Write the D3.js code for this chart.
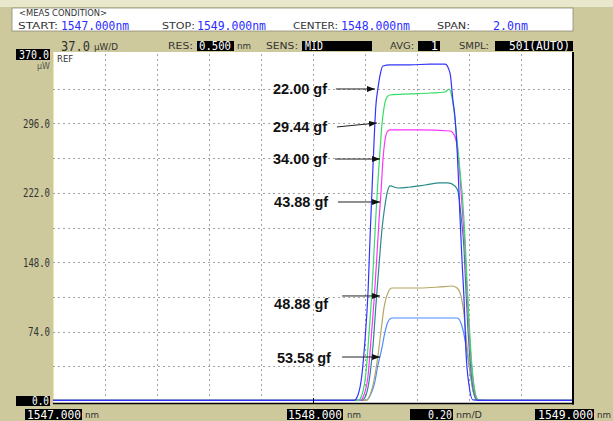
<!DOCTYPE html>
<html lang="en">
<head>
<meta charset="utf-8">
<title>OSA spectrum vs load</title>
<script src="https://cdn.jsdelivr.net/npm/d3@7"></script>
<style>
  body { margin: 0; background: #cdc99c; }
  svg { display: block; }
</style>
</head>
<body>
<script>
// spectra: [wavelength nm, power uW]
const spec2200 = [[1547.000,0.6],[1548.158,0.6],[1548.173,6.4],[1548.188,27.7],[1548.200,65.0],[1548.212,118.4],[1548.219,171.7],[1548.227,225.0],[1548.235,278.3],[1548.242,315.6],[1548.250,333.8],[1548.258,347.6],[1548.269,357.2],[1548.296,358.3],[1548.373,358.3],[1548.450,359.3],[1548.508,359.3],[1548.527,349.7],[1548.538,321.0],[1548.546,302.8],[1548.558,246.3],[1548.565,198.3],[1548.573,150.3],[1548.581,107.7],[1548.588,54.4],[1548.600,17.1],[1548.615,1.1],[1548.640,0.6],[1549.000,0.6]]
const spec2944 = [[1547.000,0.6],[1548.173,0.6],[1548.188,6.4],[1548.204,30.9],[1548.215,70.4],[1548.227,118.4],[1548.235,161.0],[1548.242,198.3],[1548.250,235.7],[1548.258,267.6],[1548.265,294.3],[1548.273,312.4],[1548.285,324.2],[1548.296,326.3],[1548.373,327.4],[1548.450,328.4],[1548.508,329.5],[1548.523,332.7],[1548.531,328.4],[1548.542,310.3],[1548.554,278.3],[1548.565,246.3],[1548.577,209.0],[1548.585,171.7],[1548.592,129.0],[1548.600,86.4],[1548.608,49.0],[1548.619,17.1],[1548.635,1.1],[1548.660,0.6],[1549.000,0.6]]
const spec3400 = [[1547.000,0.6],[1548.181,0.6],[1548.196,6.4],[1548.212,27.7],[1548.223,65.0],[1548.235,107.7],[1548.246,155.7],[1548.254,193.0],[1548.262,225.0],[1548.269,257.0],[1548.277,278.3],[1548.285,286.8],[1548.296,289.0],[1548.412,289.0],[1548.527,287.9],[1548.538,285.8],[1548.550,278.3],[1548.562,251.6],[1548.569,225.0],[1548.577,193.0],[1548.585,161.0],[1548.592,118.4],[1548.600,75.7],[1548.608,43.7],[1548.619,13.9],[1548.635,1.1],[1548.660,0.6],[1549.000,0.6]]
const spec4388 = [[1547.000,0.6],[1548.188,0.6],[1548.204,6.4],[1548.219,27.7],[1548.231,59.7],[1548.242,102.4],[1548.254,145.0],[1548.265,182.3],[1548.277,209.0],[1548.285,221.8],[1548.296,229.3],[1548.327,227.1],[1548.373,228.2],[1548.431,230.3],[1548.488,232.5],[1548.519,232.5],[1548.546,229.3],[1548.558,222.9],[1548.569,198.3],[1548.581,161.0],[1548.588,118.4],[1548.596,75.7],[1548.604,43.7],[1548.615,13.9],[1548.631,1.1],[1548.655,0.6],[1549.000,0.6]]
const spec4888 = [[1547.000,0.6],[1548.204,0.6],[1548.219,6.4],[1548.235,22.4],[1548.250,49.0],[1548.262,75.7],[1548.273,99.2],[1548.288,115.2],[1548.304,120.5],[1548.412,120.5],[1548.488,121.6],[1548.535,122.6],[1548.554,120.5],[1548.569,112.0],[1548.581,91.7],[1548.592,59.7],[1548.604,33.1],[1548.615,11.7],[1548.631,1.1],[1548.650,0.6],[1549.000,0.6]]
const spec5358 = [[1547.000,0.6],[1548.204,0.6],[1548.219,5.3],[1548.235,17.1],[1548.250,38.4],[1548.265,56.5],[1548.277,73.6],[1548.288,84.2],[1548.304,88.5],[1548.412,88.5],[1548.554,88.5],[1548.569,83.2],[1548.581,70.4],[1548.592,52.2],[1548.604,30.9],[1548.615,11.7],[1548.631,1.1],[1548.650,0.6],[1549.000,0.6]]

// load labels and the arrows pointing at each trace
const loads = ["22.00 gf", "29.44 gf", "34.00 gf", "43.88 gf", "48.88 gf", "53.58 gf"]
const arrowFrom = [[1548.088,332.7],[1548.092,292.2],[1548.085,258.0],[1548.096,212.2],[1548.112,112.0],[1548.112,46.9]]
const arrowTo = [[1548.238,332.7],[1548.246,296.4],[1548.258,258.0],[1548.258,212.2],[1548.258,112.0],[1548.258,46.9]]
const labelWl = [1548.054, 1548.054, 1548.054, 1548.058, 1548.058, 1548.069]
const labelPw = [332.7, 292.2, 258.0, 212.2, 103.4, 45.9]

const yTicks = [74, 148, 222, 296]
const wlRange = [1547, 1549]
const pwRange = [0, 370]

const W = 613, H = 421

const svg = d3.select("body").append("svg")
    .attr("width", W)
    .attr("height", H)

const x = d3.scaleLinear().domain(wlRange).range([53, 573])
const y = d3.scaleLinear().domain(pwRange).range([401, 54])

function put(g, str, px, py, o = {}) {
    const t = g.append("text")
        .attr("x", px).attr("y", py)
        .attr("font-family", o.family || "DejaVu Sans Mono")
        .attr("font-size", o.size || 11)
        .attr("fill", o.fill || "#2a2a2a")
        .attr("text-anchor", o.anchor || "start")
        .attr("dominant-baseline", "central")
        .text(str)
    if (o.len) t.attr("textLength", o.len).attr("lengthAdjust", "spacingAndGlyphs")
    if (o.weight) t.attr("font-weight", o.weight)
    return t
}

function box(g, x0, x1, y0, y1) {
    g.append("rect").attr("x", x0).attr("y", y0)
        .attr("width", x1 - x0).attr("height", y1 - y0)
        .attr("fill", "#000")
}

// background
svg.append("rect").attr("width", W).attr("height", H).attr("fill", "#cdc99c")
svg.append("rect").attr("width", W).attr("height", 7).attr("fill", "#e9e7cc")

// measurement condition panel
const panel = svg.append("g")
panel.append("rect").attr("x", 12).attr("y", 8).attr("width", 561).attr("height", 23)
    .attr("fill", "#fff").attr("stroke", "#8c8a78").attr("stroke-width", 0.8)
const small = { family: "DejaVu Sans", size: 8.5, fill: "#333" }
const blue = { size: 13, fill: "#2d2dff" }
put(panel, "<MEAS CONDITION>", 19, 13, { ...small, size: 8, len: 88 })
put(panel, "START:", 18, 26, { ...small, len: 40 })
put(panel, d3.format(".3f")(wlRange[0]) + "nm", 61, 25.5, { ...blue, len: 68 })
put(panel, "STOP:", 162, 26, { ...small, len: 33 })
put(panel, d3.format(".3f")(wlRange[1]) + "nm", 197, 25.5, { ...blue, len: 69 })
put(panel, "CENTER:", 293, 26, { ...small, len: 45 })
put(panel, d3.format(".3f")(d3.mean(wlRange)) + "nm", 341, 25.5, { ...blue, len: 69 })
put(panel, "SPAN:", 437, 26, { ...small, len: 33 })
put(panel, d3.format(".1f")(wlRange[1] - wlRange[0]) + "nm", 493, 25.5, { ...blue, len: 35 })

// settings row
const hdr = svg.append("g")
const white = { size: 12, fill: "#fff" }
put(hdr, d3.format(".1f")((pwRange[1] - pwRange[0]) / 10), 61, 46, { size: 14, fill: "#333", len: 29 })
put(hdr, "\u00b5W/D", 94, 47, { ...small, size: 8, len: 24 })
put(hdr, "RES:", 168, 46, { ...small, len: 25 })
box(hdr, 197, 234, 41, 51)
put(hdr, "0.500", 199, 46, { ...white, len: 32 })
put(hdr, "nm", 237, 46, { ...small, len: 14 })
put(hdr, "SENS:", 266, 46, { ...small, len: 32 })
box(hdr, 302, 372, 41, 51)
put(hdr, "MID", 305, 46, { ...white, len: 18 })
put(hdr, "AVG:", 390, 46, { ...small, len: 24 })
box(hdr, 418, 440, 41, 51)
put(hdr, "1", 438, 46, { ...white, anchor: "end" })
put(hdr, "SMPL:", 459, 46, { ...small, len: 30 })
box(hdr, 495, 573, 41, 51)
put(hdr, "501(AUTO)", 570, 46, { ...white, anchor: "end", len: 61 })

// plot area
svg.append("rect").attr("x", 53).attr("y", 52).attr("width", 520).attr("height", 351).attr("fill", "#fff")
svg.append("line").attr("x1", 53.5).attr("x2", 53.5).attr("y1", 52).attr("y2", 403)
    .attr("stroke", "#ebe6b4")

const grid = svg.append("g")
    .attr("stroke", "#a4a4a4")
    .attr("stroke-dasharray", "2,3")
grid.selectAll(".vx")
    .data(x.ticks(10).slice(1, -1))
    .enter().append("line")
    .attr("x1", d => Math.round(x(d)) + 0.5).attr("x2", d => Math.round(x(d)) + 0.5)
    .attr("y1", y(pwRange[1])).attr("y2", y(0))
grid.selectAll(".hy")
    .data(d3.range(1, 10).map(k => k * (pwRange[1] - pwRange[0]) / 10))
    .enter().append("line")
    .attr("y1", d => Math.round(y(d)) + 0.5).attr("y2", d => Math.round(y(d)) + 0.5)
    .attr("x1", x(wlRange[0])).attr("x2", x(wlRange[1]))

// y labels
const yAxis = svg.append("g")
    .attr("transform", "translate(53,0)")
    .call(d3.axisLeft(y).tickValues(yTicks).tickFormat(d3.format(".1f")).tickSize(0).tickPadding(3))
yAxis.select(".domain").remove()
yAxis.selectAll("text")
    .attr("font-family", "DejaVu Sans Mono")
    .attr("font-size", 12)
    .attr("fill", "#333")
    .attr("textLength", d => d >= 100 ? 27 : 22)
    .attr("lengthAdjust", "spacingAndGlyphs")

const side = svg.append("g")
box(side, 16, 50, y(pwRange[1]) - 5, y(pwRange[1]) + 6)
put(side, d3.format(".1f")(pwRange[1]), 49, y(pwRange[1]) + 0.5, { ...white, anchor: "end", len: 30 })
box(side, 16, 50, y(0) - 5, y(0) + 5)
put(side, d3.format(".1f")(0), 49, y(0), { ...white, anchor: "end", len: 17 })
put(side, "\u00b5W", 50, 66, { ...small, size: 8, fill: "#555", anchor: "end" })
put(svg, "REF", 57, 59, { ...small, size: 8.5 })

// traces
const line = d3.line()
    .x(d => x(d[0]))
    .y(d => y(d[1]))
    .curve(d3.curveMonotoneX)

const traces = [spec5358, spec4888, spec4388, spec3400, spec2944, spec2200]
const colors = ["#4a8cff", "#b3a865", "#2a8a8a", "#ff33ff", "#33dd66", "#3333ff"]

svg.append("g").selectAll("path")
    .data(traces)
    .enter().append("path")
    .attr("d", line)
    .attr("fill", "none")
    .attr("stroke", (d, i) => colors[i])
    .attr("stroke-width", 1.2)

// frame: right edge and bottom axis line
svg.append("line").attr("x1", 573).attr("x2", 573).attr("y1", 52).attr("y2", 404.5)
    .attr("stroke", "#000").attr("stroke-width", 2)
svg.append("line").attr("x1", 53).attr("x2", 574).attr("y1", 403.5).attr("y2", 403.5)
    .attr("stroke", "#000").attr("stroke-width", 1.6)
svg.append("line").attr("x1", x(d3.mean(wlRange)) + 0.5).attr("x2", x(d3.mean(wlRange)) + 0.5)
    .attr("y1", 398).attr("y2", 403).attr("stroke", "#000")

// annotations
svg.append("defs").append("marker")
    .attr("id", "arr")
    .attr("viewBox", "0 0 8 6")
    .attr("refX", 8).attr("refY", 3)
    .attr("markerWidth", 8).attr("markerHeight", 6)
    .attr("markerUnits", "userSpaceOnUse")
    .attr("orient", "auto")
    .append("path").attr("d", "M0,0L8,3L0,6Z").attr("fill", "#111")

const ann = svg.append("g")
loads.forEach(function (s, i) {
    const [fw, fp] = arrowFrom[i]
    const [tw, tp] = arrowTo[i]
    ann.append("line")
        .attr("x1", x(fw)).attr("y1", y(fp))
        .attr("x2", x(tw)).attr("y2", y(tp))
        .attr("stroke", "#222")
        .attr("stroke-width", 1)
        .attr("marker-end", "url(#arr)")
    put(ann, s, x(labelWl[i]), y(labelPw[i]), {
        family: "Liberation Sans", size: 14.5, weight: "bold", fill: "#111", anchor: "end"
    })
})

// footer
const foot = svg.append("g")
box(foot, 25, 82, 409, 420)
put(foot, d3.format(".3f")(wlRange[0]), 81, 414.5, { ...white, anchor: "end", len: 54 })
put(foot, "nm", 85, 415, { ...small, len: 14 })
box(foot, 287, 343, 409, 420)
put(foot, d3.format(".3f")(d3.mean(wlRange)), 342, 414.5, { ...white, anchor: "end", len: 54 })
put(foot, "nm", 347, 415, { ...small, len: 14 })
box(foot, 410, 453, 409, 420)
put(foot, d3.format(".2f")((wlRange[1] - wlRange[0]) / 10), 452, 414.5, { ...white, anchor: "end", len: 24 })
put(foot, "nm/D", 456, 415, { ...small, len: 26 })
box(foot, 535, 594, 409, 420)
put(foot, d3.format(".3f")(wlRange[1]), 593, 414.5, { ...white, anchor: "end", len: 55 })
put(foot, "nm", 597, 415, { ...small, len: 14 })
</script>
</body>
</html>
